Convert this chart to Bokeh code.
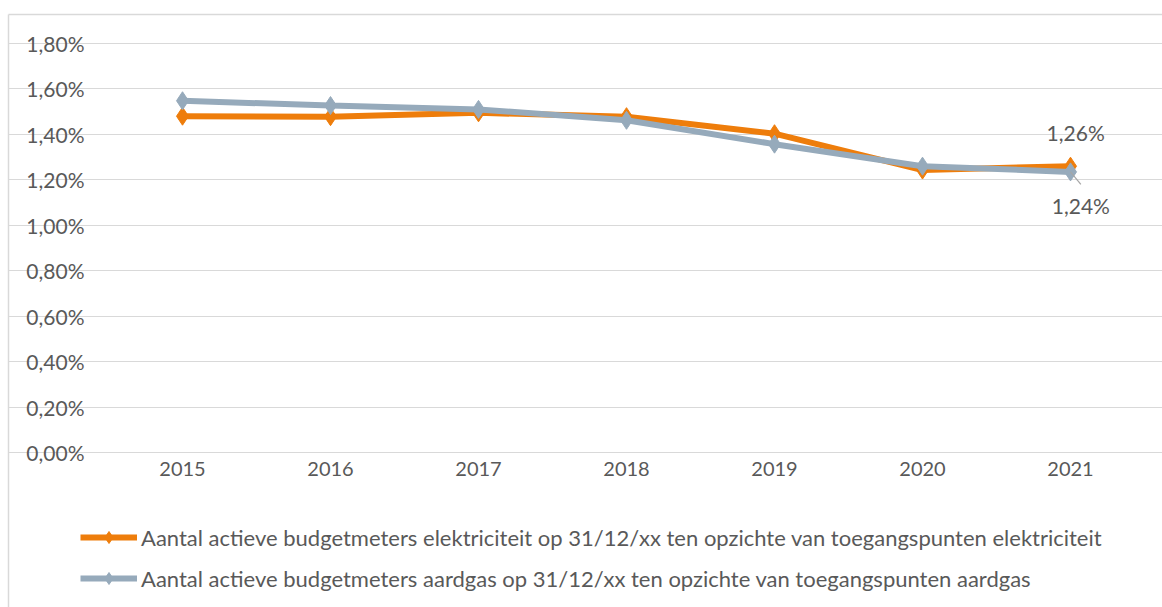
from bokeh.plotting import figure
from bokeh.models import (Range1d, FixedTicker, Legend, LegendItem, LinearAxis,
                          ColumnDataSource)
from bokeh.transform import dodge
from bokeh.core.properties import value
from bokeh.embed import file_html
from bokeh.resources import INLINE

years = ["2015", "2016", "2017", "2018", "2019", "2020", "2021"]
elektriciteit = [1.48, 1.478, 1.495, 1.478, 1.403, 1.243, 1.26]
aardgas = [1.548, 1.527, 1.51, 1.462, 1.357, 1.26, 1.235]
y_ticks = [0.0, 0.2, 0.4, 0.6, 0.8, 1.0, 1.2, 1.4, 1.6, 1.8]
label_elec = "Aantal actieve budgetmeters elektriciteit op 31/12/xx ten opzichte van toegangspunten elektriciteit"
label_gas = "Aantal actieve budgetmeters aardgas op 31/12/xx ten opzichte van toegangspunten aardgas"

ORANGE = "#EE7D0B"
GREY = "#96AABB"
TEXT = "#595959"
BORDER = "#d9d9d9"
FONT = "Lato"

xi = list(range(len(years)))

W, H = 1162, 607
# frame = whole chart box (left/top border at 8/14); plot area placed inside via ranges
p = figure(width=W, height=H,
           x_range=Range1d(-1.17568, 6.62162), y_range=Range1d(-0.68215, 1.92763),
           output_backend="svg", toolbar_location=None,
           min_border_left=8, min_border_right=0, min_border_top=14,
           min_border_bottom=0)
p.outline_line_color = None
p.background_fill_color = "white"
p.border_fill_color = "white"

p.yaxis.ticker = FixedTicker(ticks=y_ticks)
p.yaxis.major_label_overrides = {t: ("%.2f%%" % t).replace(".", ",") for t in y_ticks}
p.xaxis.ticker = FixedTicker(ticks=xi)
p.xaxis.major_label_overrides = {i: y for i, y in zip(xi, years)}
p.ygrid.ticker = FixedTicker(ticks=y_ticks)
p.ygrid.bounds = (-0.5, len(years) - 0.5)
p.ygrid.grid_line_color = BORDER
p.ygrid.grid_line_width = 1
p.xgrid.grid_line_color = None
for ax in (p.xaxis, p.yaxis):
    ax.major_tick_line_color = None
    ax.minor_tick_line_color = None
    ax.major_label_text_font = FONT
    ax.major_label_text_color = TEXT
p.xaxis.axis_line_color = None
p.yaxis.axis_line_color = BORDER
p.yaxis.axis_line_width = 1.5
p.yaxis.major_label_text_font_size = "21px"
p.xaxis.major_label_text_font_size = "20px"
p.yaxis.major_label_standoff = -82
p.xaxis.major_label_standoff = -152

top = LinearAxis(ticker=FixedTicker(ticks=[]), axis_line_color=BORDER, axis_line_width=1.5,
                 major_tick_line_color=None, minor_tick_line_color=None,
                 major_label_text_font_size="0px", major_label_standoff=0)
p.add_layout(top, "above")

src = ColumnDataSource(dict(x=xi, e=elektriciteit, g=aardgas))
le = p.line("x", "e", source=src, line_color=ORANGE, line_width=6)
me = p.scatter("x", "e", source=src, marker="diamond", size=18, color=ORANGE)
lg = p.line("x", "g", source=src, line_color=GREY, line_width=6)
mg = p.scatter("x", "g", source=src, marker="diamond", size=18, color=GREY)

# data labels for 2021
last = ColumnDataSource(dict(x=[xi[-1]], e=[elektriciteit[-1]], g=[aardgas[-1]],
                             te=[("%.2f%%" % elektriciteit[-1]).replace(".", ",")],
                             tg=[("%.2f%%" % round(aardgas[-1] + 0.001, 2)).replace(".", ",")],
                             g_end=[aardgas[-1] - 0.055]))
p.segment(x0="x", y0="g", x1=dodge("x", 0.07), y1="g_end",
          source=last, line_color="#a6a6a6", line_width=1.2)
p.text(x=dodge("x", 0.035), y="e", text="te", source=last,
       y_offset=-34, text_align="center", text_baseline="middle",
       text_font=value(FONT), text_font_size="21px", text_color=TEXT)
p.text(x=dodge("x", 0.07), y="g", text="tg", source=last,
       y_offset=34, text_align="center", text_baseline="middle",
       text_font=value(FONT), text_font_size="21px", text_color=TEXT)

legend = Legend(items=[LegendItem(label=label_elec, renderers=[le, me]),
                       LegendItem(label=label_gas, renderers=[lg, mg])],
                location=(72, 14), orientation="vertical",
                glyph_width=57, glyph_height=30, label_height=30,
                spacing=11, padding=0, margin=0, label_standoff=4,
                border_line_color=None, background_fill_alpha=0,
                label_text_font=FONT, label_text_font_size="22px",
                label_text_color=TEXT)
p.add_layout(legend, "center")

open("out.html", "w").write(file_html(p, INLINE))
